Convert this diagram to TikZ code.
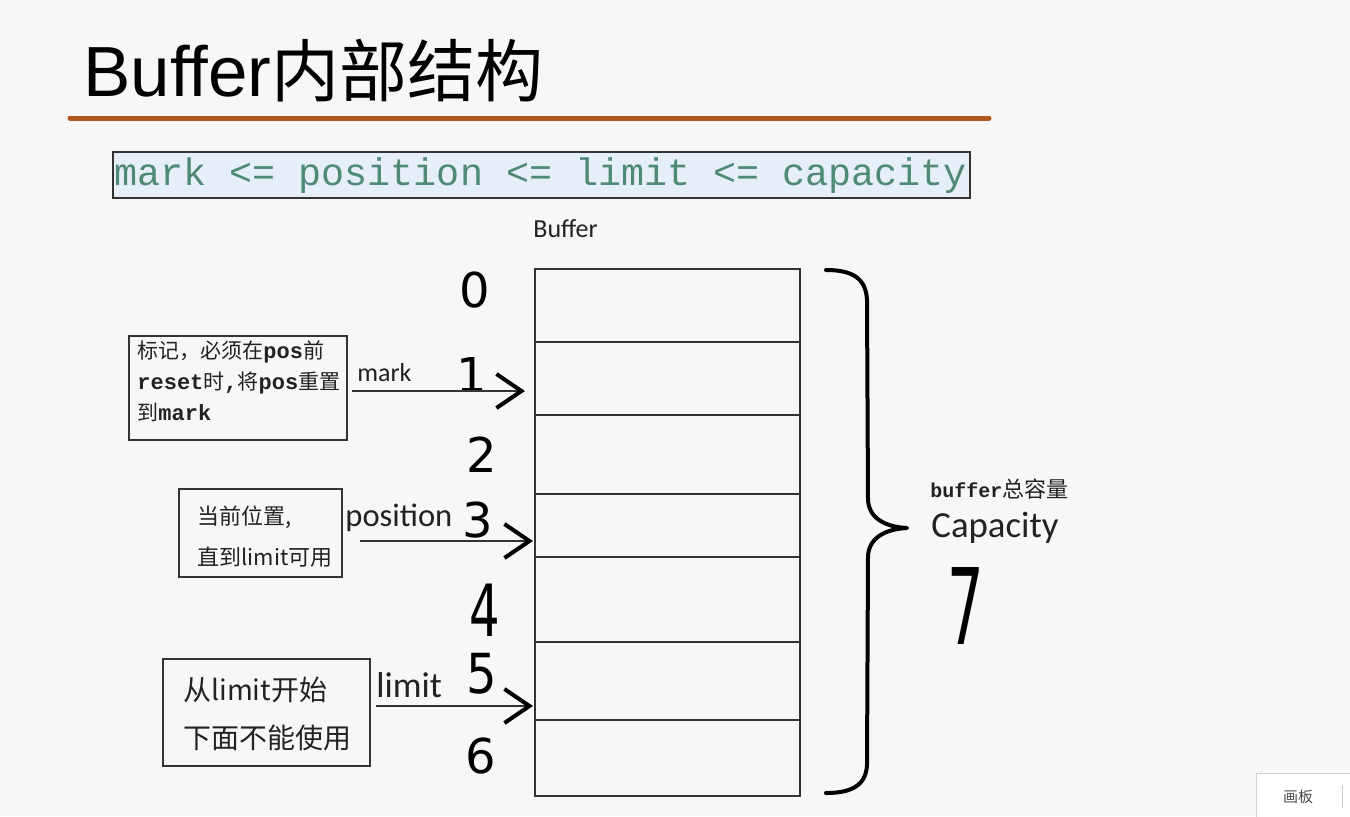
\documentclass[tikz,border=0pt]{standalone}
\usepackage{fontspec}
\setmainfont{Carlito}
\newfontfamily\cjk{Noto Sans CJK SC}
\newfontfamily\arialf{Liberation Sans}
\newfontfamily\monof{Liberation Mono}
\newfontfamily\digitf{DejaVu Sans}
\usetikzlibrary{arrows.meta}
\newcommand\setfs[1]{\fontsize{#1pt}{#1pt}\selectfont}
\definecolor{bg}{HTML}{F7F7F7}
\definecolor{rule}{RGB}{176,88,30}
\definecolor{codefill}{HTML}{E6EEF8}
\definecolor{codetext}{RGB}{78,138,118}
\definecolor{ink}{HTML}{222222}
\definecolor{frame}{HTML}{333333}
\tikzset{
  txt/.style={inner sep=0pt, anchor=west, text=ink},
  digit/.style={inner sep=0pt, text=black, font=\digitf\setfs{24}},
  box/.style={draw=frame, line width=0.75pt},
  shaft/.style={draw=frame, line width=0.65pt,
     -{Straight Barb[length=12.5pt,width=17pt,line width=2pt,color=black]}},
}
\begin{document}
\begin{tikzpicture}[x=0.5pt,y=-0.5pt]
\fill[bg] (0,0) rectangle (1350,816);
\useasboundingbox (0,0) rectangle (1350,816);

% title
\node[txt, anchor=base west, text=black] (title) at (83,96)
  {{\arialf\setfs{35.5}Buffer}{\cjk\setfs{34}内部结构}};
\draw[rule, line width=2.5pt, line cap=round] (70,118) -- (989,118);

% formula
\node[box, fill=codefill, minimum width=428.5pt, minimum height=23pt, inner sep=0pt,
      anchor=north west] (formula) at (112,151) {};
\node[txt, text=codetext, font=\monof\setfs{19.2}] (formulatext) at (114,176)
  {mark <= position <= limit <= capacity};

% buffer
\node[txt, font=\setfs{13}] (buflabel) at (533,229) {Buffer};
\node[box, minimum width=132.5pt, minimum height=263.5pt, inner sep=0pt,
      anchor=north west] (buf) at (534,268) {};
\foreach \yy in {342,415,494,557,642,720}
  \draw[frame, line width=0.75pt] (534,\yy) -- (799,\yy);

% digits
\node[digit] (d0) at (475,290) {0};
\node[digit] (d1) at (472,375) {1};
\node[digit] (d2) at (482,455) {2};
\node[digit] (d3) at (478,520) {3};
\node[digit] (d4) at (485,610) {\scalebox{1}[1.5]{4}};
\node[digit] (d5) at (482,674) {\scalebox{1}[1.15]{5}};
\node[digit] (d6) at (481,756) {6};

% box 1
\node[box, minimum width=109pt, minimum height=52pt, inner sep=0pt, anchor=north west]
  (b1) at (128,335) {};
\node[txt] (b1l1) at (137,352) {{\cjk\setfs{10.5}标记，必须在}{\monof\bfseries\setfs{11}pos}{\cjk\setfs{10.5}前}};
\node[txt] (b1l2) at (137,383) {{\monof\bfseries\setfs{11}reset}{\cjk\setfs{10.5}时}{\monof\bfseries\setfs{11},}{\cjk\setfs{10.5}将}{\monof\bfseries\setfs{11}pos}{\cjk\setfs{10.5}重置}};
\node[txt] (b1l3) at (137,412) {{\cjk\setfs{10.5}到}{\monof\bfseries\setfs{11}mark}};
\coordinate (m0) at (352,391);
\coordinate (m1) at (525,391);
\node[txt, font=\setfs{13}] (lmark) at (357,373) {mark};
\draw[shaft] (m0) -- (m1);

% box 2
\node[box, minimum width=81.5pt, minimum height=44pt, inner sep=0pt, anchor=north west]
  (b2) at (178,488) {};
\node[txt, font=\cjk\setfs{11}] (b2l1) at (197,517) {当前位置,};
\node[txt, font=\cjk\setfs{11}] (b2l2) at (197,557) {直到limit可用};
\coordinate (p0) at (360,541);
\coordinate (p1) at (533,541);
\node[txt, font=\setfs{16.3}] (lpos) at (345,518) {position};
\draw[shaft] (p0) -- (p1);

% box 3
\node[box, minimum width=103.5pt, minimum height=53.5pt, inner sep=0pt, anchor=north west]
  (b3) at (162,658) {};
\node[txt, font=\cjk\setfs{14}] (b3l1) at (183,690) {从limit开始};
\node[txt, font=\cjk\setfs{14}] (b3l2) at (183,738) {下面不能使用};
\coordinate (l0) at (376,706);
\coordinate (l1) at (533,706);
\node[txt, font=\setfs{18}] (llim) at (376,685) {limit};
\draw[shaft] (l0) -- (l1);

% brace
\draw[black, line width=2pt, line cap=round, line join=round]
  (826,270) .. controls (852,270) and (866,278) .. (867,300)
  -- (868,500) .. controls (869,518) and (885,527) .. (907,528)
  .. controls (885,529) and (869,538) .. (868,556)
  -- (867,765) .. controls (866,785) and (852,793) .. (826,793);

% capacity
\node[txt] (captitle) at (930,489) {{\monof\bfseries\setfs{10}buffer}{\cjk\setfs{11}总容量}};
\node[txt, font=\setfs{18.4}] (cap) at (931,528) {Capacity};
\node[digit] (d7) at (966,606) {\scalebox{1.2}[2.2]{7}};

% corner button
\draw[fill=white, draw=black!18] (1256,773) rectangle (1362,822);
\node[inner sep=0pt, text=black!70, font=\cjk\setfs{7.5}] (btn) at (1298,797) {画板};
\draw[black!20, line width=0.5pt] (1342,785) -- (1342,808);
\end{tikzpicture}
\end{document}
